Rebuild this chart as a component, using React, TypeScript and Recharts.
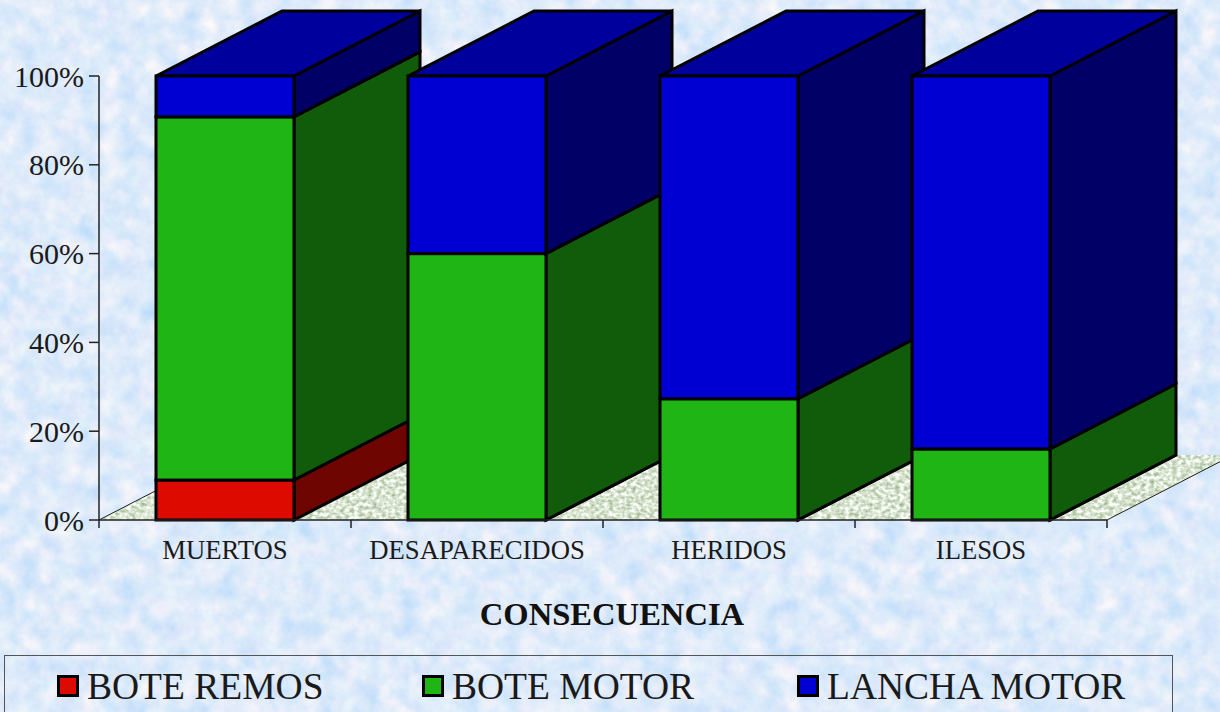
import { Bar, BarChart, Label, ReferenceArea, XAxis, YAxis } from "recharts";

const categories = ["MUERTOS", "DESAPARECIDOS", "HERIDOS", "ILESOS"];
const boteRemos = [9, 0, 0, 0];
const boteMotor = [81.8, 60, 27.3, 16];
const lanchaMotor = [9.2, 40, 72.7, 84];
const yTicks = [0, 20, 40, 60, 80, 100];
const legendItems = [
  { name: "BOTE REMOS", color: "#dd0a00" },
  { name: "BOTE MOTOR", color: "#1fb515" },
  { name: "LANCHA MOTOR", color: "#0000d2" },
];

const data = categories.map((name, i) => ({
  name,
  remos: boteRemos[i],
  motor: boteMotor[i],
  lancha: lanchaMotor[i],
}));

const W = 1220;
const H = 712;
const FONT = '"Liberation Serif", serif';
const LEFT = 99;
const RIGHT = 113;
const DX = 126;
const DY = 65;
const HALF_BAND = (W - LEFT - RIGHT) / categories.length / 2;

// front, side and (only for the top series) the lid of a 3d box
function box(front: string, side: string, lid?: string) {
  return (props: any) => {
    const { x, y, width, height } = props;
    const r = x + width;
    const b = y + height;
    return (
      <g stroke="#000" strokeWidth={3} strokeLinejoin="miter">
        <polygon fill={side} points={`${r},${y} ${r + DX},${y - DY} ${r + DX},${b - DY} ${r},${b}`} />
        {lid && <polygon fill={lid} points={`${x},${y} ${x + DX},${y - DY} ${r + DX},${y - DY} ${r},${y}`} />}
        <rect x={x} y={y} width={width} height={height} fill={front} />
      </g>
    );
  };
}

function Floor(props: any) {
  const { x, y, width, height } = props;
  const b = y + height;
  const r = x + width;
  return (
    <g>
      <polygon filter="url(#floorTex)" fill="#fff" points={`${x},${b} ${r},${b} ${r + DX},${b - DY} ${x + DX},${b - DY}`} />
      <line x1={x} y1={b} x2={x + DX} y2={b - DY} stroke="#222" strokeWidth={1} />
      <line x1={r} y1={b} x2={r + DX} y2={b - DY} stroke="#222" strokeWidth={1} />
    </g>
  );
}

function CategoryTick(props: any) {
  const { x, y, payload, index } = props;
  return (
    <g>
      <line x1={x - HALF_BAND} y1={y - 8} x2={x - HALF_BAND} y2={y} stroke="#222" strokeWidth={1.5} />
      {index === categories.length - 1 && (
        <line x1={x + HALF_BAND} y1={y - 8} x2={x + HALF_BAND} y2={y} stroke="#222" strokeWidth={1.5} />
      )}
      <text x={x} y={y + 31} textAnchor="middle" fontFamily={FONT} fontSize={26.7} fill="#1a1a1a">
        {payload.value}
      </text>
    </g>
  );
}

function Paper() {
  return (
    <svg width={W} height={H} style={{ position: "absolute", left: 0, top: 0 }}>
      <defs>
        <filter id="paper" x="0" y="0" width="100%" height="100%" colorInterpolationFilters="sRGB">
          <feTurbulence type="fractalNoise" baseFrequency="0.05" numOctaves={4} seed={7} />
          <feColorMatrix
            type="matrix"
            values="0.22 0.18 0 0 0.67  0.12 0.05 0 0 0.835  0 0 0 0 0.98  0 0 0 0 1"
          />
        </filter>
      </defs>
      <rect width={W} height={H} filter="url(#paper)" />
    </svg>
  );
}

function ChartLegend() {
  const lefts = [56, 421, 796];
  return (
    <div
      style={{
        position: "absolute",
        left: 4,
        top: 655,
        width: 1169,
        height: 70,
        border: "1.5px solid #555",
        boxSizing: "border-box",
      }}
    >
      {legendItems.map((item, i) => (
        <div key={item.name} style={{ position: "absolute", left: lefts[i] - 4, top: 0, display: "flex", alignItems: "center", height: 60 }}>
          <span
            style={{
              width: 22,
              height: 22,
              boxSizing: "border-box",
              border: "3px solid #000",
              background: item.color,
              marginRight: 8,
            }}
          />
          <span style={{ fontFamily: FONT, fontSize: 37.5, color: "#1a1a1a", whiteSpace: "nowrap" }}>{item.name}</span>
        </div>
      ))}
    </div>
  );
}

export default function App() {
  return (
    <div style={{ position: "absolute", left: 0, top: 0, width: W, height: H, overflow: "hidden" }}>
      <Paper />
      <div style={{ position: "absolute", left: 0, top: 0 }}>
        <BarChart
          width={W}
          height={H}
          data={data}
          margin={{ top: 76, right: RIGHT, left: LEFT - 60, bottom: 82 }}
          style={{ overflow: "visible" }}
        >
          <defs>
            <filter id="floorTex" x="0" y="0" width="100%" height="100%" colorInterpolationFilters="sRGB">
              <feTurbulence type="fractalNoise" baseFrequency="0.22 0.3" numOctaves={2} seed={3} />
              <feColorMatrix type="matrix" values="0.7 0 0 0 0.5  0.55 0 0 0 0.62  0.8 0 0 0 0.42  0 0 0 0 1" />
              <feComposite in2="SourceGraphic" operator="in" />
            </filter>
          </defs>
          <ReferenceArea y1={0} y2={100} shape={Floor} ifOverflow="visible" />
          <XAxis
            dataKey="name"
            interval={0}
            height={110}
            tickLine={false}
            tick={CategoryTick}
            axisLine={{ stroke: "#222", strokeWidth: 1.5 }}
          >
            <Label
              value="CONSECUENCIA"
              position="insideBottom"
              dx={9}
              style={{ fontFamily: FONT, fontSize: 32.6, fontWeight: 700, fill: "#111" }}
            />
          </XAxis>
          <YAxis
            width={60}
            domain={[0, 100]}
            ticks={yTicks}
            tickFormatter={(v) => `${v}%`}
            tickSize={10}
            tickMargin={5}
            tick={{ fontFamily: FONT, fontSize: 30, fill: "#1a1a1a" }}
            tickLine={{ stroke: "#222", strokeWidth: 1.5 }}
            axisLine={{ stroke: "#222", strokeWidth: 1.5 }}
          />
          <Bar dataKey="remos" stackId="a" barSize={138} isAnimationActive={false} shape={box("#dd0a00", "#6e0500")} />
          <Bar dataKey="motor" stackId="a" barSize={138} isAnimationActive={false} shape={box("#1fb515", "#115c0b")} />
          <Bar dataKey="lancha" stackId="a" barSize={138} isAnimationActive={false} shape={box("#0000d2", "#000066", "#00009c")} />
        </BarChart>
      </div>
      <ChartLegend />
    </div>
  );
}
